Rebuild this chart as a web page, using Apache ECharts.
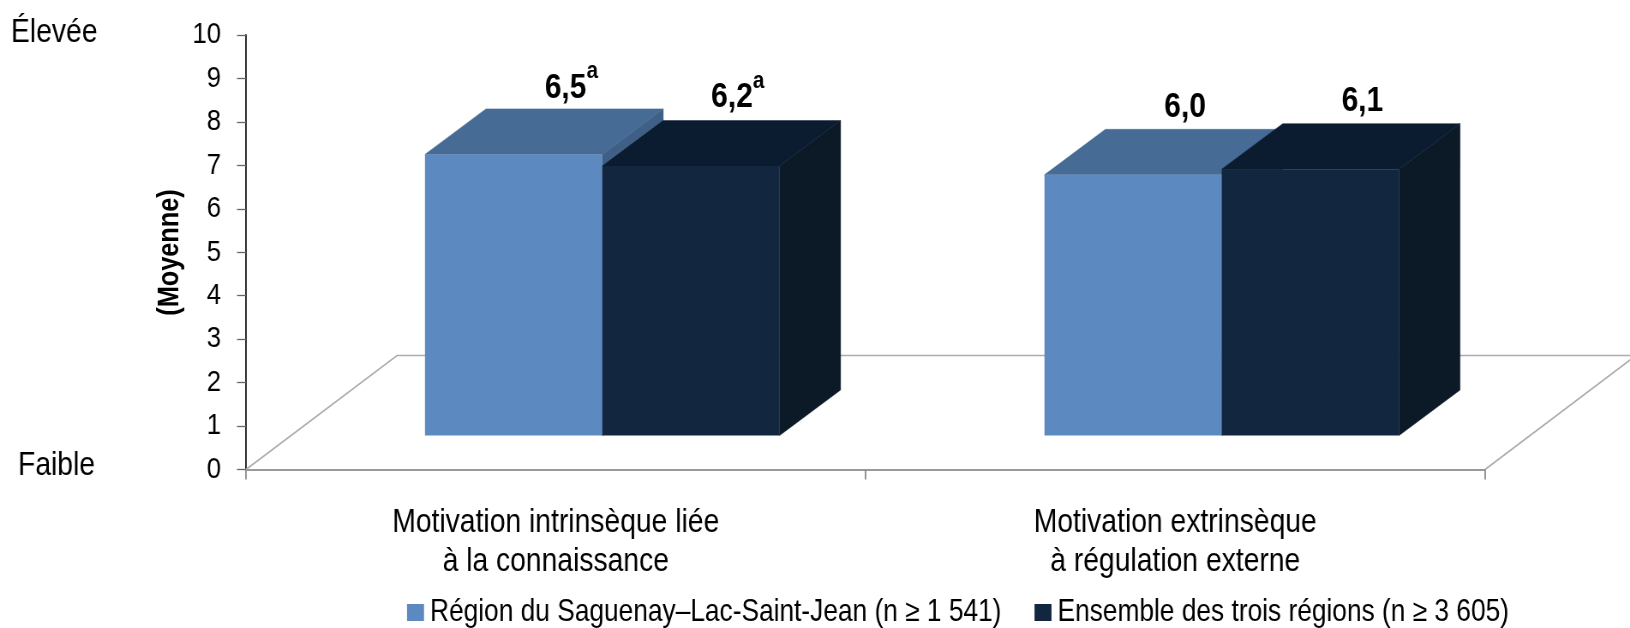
<!DOCTYPE html>
<html><head><meta charset="utf-8">
<style>
html,body{margin:0;padding:0;background:#fff;overflow:hidden;width:1630px;height:628px}
#c{height:628px;transform-origin:0 0}
</style>
<script src="https://cdn.jsdelivr.net/npm/echarts@6/dist/echarts.min.js"></script>
</head><body><div id="c"></div>
<script>
const categories = ['Motivation intrinsèque liée\nà la connaissance', 'Motivation extrinsèque\nà régulation externe'];
const seriesNames = ['Région du Saguenay–Lac-Saint-Jean (n ≥ 1 541)', 'Ensemble des trois régions (n ≥ 3 605)'];
const regionValues = [6.47, 6.0];
const ensembleValues = [6.2, 6.13];
const regionLabels = ['6,5', '6,0'];
const ensembleLabels = ['6,2', '6,1'];
const regionMarks = ['a', ''];
const ensembleMarks = ['a', ''];
const yTicks = [0, 10];

// The reference uses a narrow sans face: the page is drawn wide and condensed horizontally.
const K = 0.857;
const X = px => px / K;
const host = document.getElementById('c');
host.style.width = X(1630) + 'px';
host.style.transform = 'scaleX(' + K + ')';

const FONT = '"Liberation Sans",Arial,sans-serif';
const FS = 33;
const FLOOR_DX = X(151), FLOOR_DY = 114;
const BAR_DX = X(61), BAR_DY = 45.5;
const OFF_X = X(46.5), OFF_Y = 34;
const BAR_RATIO = 177.3 / 619.5;
const LABEL_DX = [[52, 52], [41, 52]];
const LABEL_DY = [[0, -1], [-2, -1]];

const shades = [
  {front:'#5b89c0', top:'#466b94', side:'#3f5f87'},
  {front:'#12263f', top:'#0c1c30', side:'#0c1926'}
];

function box(seriesIdx, labels, marks) {
  return function (params, api) {
    const cat = api.value(0), val = api.value(1);
    const c = api.coord([cat, val]), c0 = api.coord([cat, 0]);
    const w = api.size([1, 0])[0] * BAR_RATIO;
    const mid = c[0] + OFF_X;
    const x0 = seriesIdx === 0 ? mid - w : mid;
    const x1 = x0 + w;
    const yT = c[1] - OFF_Y, yB = c0[1] - OFF_Y;
    const s = shades[seriesIdx];
    const poly = (pts, fill) => ({type:'polygon', shape:{points:pts}, style:{fill:fill, stroke:fill, lineWidth:0.5}});
    const lx = x0 + w/2 + X(LABEL_DX[seriesIdx][cat]);
    const base = yT - BAR_DY - 10.5 + LABEL_DY[seriesIdx][cat];
    const children = [
      poly([[x1,yT],[x1+BAR_DX,yT-BAR_DY],[x1+BAR_DX,yB-BAR_DY],[x1,yB]], s.side),
      poly([[x0,yT],[x0+BAR_DX,yT-BAR_DY],[x1+BAR_DX,yT-BAR_DY],[x1,yT]], s.top),
      {type:'rect', shape:{x:x0,y:yT,width:w,height:yB-yT}, style:{fill:s.front}},
      {type:'text', x:lx, y:base - 28, style:{text:labels[cat], font:'bold 35px '+FONT, fill:'#000', align:'center', verticalAlign:'top'}}
    ];
    if (marks[cat]) children.push({type:'text', x:lx + X(21), y:base - 39, style:{text:marks[cat], font:'bold 24px '+FONT, fill:'#000', align:'left', verticalAlign:'top'}});
    return {type:'group', children};
  };
}

function floor(params, api) {
  const g = params.coordSys;
  const xL = g.x, xR = g.x + g.width, y = g.y + g.height;
  const st = {fill:'none', stroke:'#adadad', lineWidth:1.7};
  return {type:'group', children:[
    {type:'polyline', shape:{points:[[xL,y],[xL+FLOOR_DX,y-FLOOR_DY],[xR+FLOOR_DX,y-FLOOR_DY]]}, style:st},
    {type:'polyline', shape:{points:[[xR,y],[xR+FLOOR_DX,y-FLOOR_DY]]}, style:st}
  ]};
}

const chart = echarts.init(host, null, {renderer:'canvas', devicePixelRatio:1});
chart.setOption({
  animation:false,
  backgroundColor:'#fff',
  textStyle:{fontFamily:FONT},
  grid:{left:X(246), top:35, width:X(1239), height:434.5, containLabel:false},
  legend:{
    left:X(407), top:597, itemWidth:X(17), itemHeight:17, itemGap:X(33), icon:'rect', padding:0,
    data:seriesNames, selectedMode:false,
    textStyle:{fontFamily:FONT, fontSize:30.7, color:'#000', padding:[0,0,0,2]}
  },
  xAxis:{
    type:'category', data:categories,
    axisLine:{lineStyle:{color:'#999', width:2}},
    axisTick:{show:true, alignWithLabel:false, length:10, lineStyle:{color:'#888', width:X(1.5)}},
    axisLabel:{color:'#000', fontFamily:FONT, fontSize:FS, lineHeight:39, margin:34, interval:0, align:'center'}
  },
  yAxis:{
    type:'value', min:yTicks[0], max:yTicks[1], interval:1,
    splitLine:{show:false},
    axisLine:{show:true, lineStyle:{color:'#111', width:X(1.5)}},
    axisTick:{show:true, length:X(9), lineStyle:{color:'#666', width:1.3}},
    axisLabel:{color:'#000', fontFamily:FONT, fontSize:30, margin:X(25), padding:[3,0,0,0]}
  },
  graphic:[
    {type:'text', x:X(11), y:16, style:{text:'Élevée', font:'33px '+FONT, fill:'#000', verticalAlign:'top'}},
    {type:'text', x:X(18), y:449, style:{text:'Faible', font:'33px '+FONT, fill:'#000', verticalAlign:'top'}},
    {type:'text', x:X(170), y:252.5, rotation:Math.PI/2, scaleX:K, scaleY:1/K,
      style:{text:'(Moyenne)', font:'bold 29.5px '+FONT, fill:'#000', align:'center', verticalAlign:'middle'}}
  ],
  series:[
    {type:'custom', name:'floor', silent:true, z:1, renderItem:floor, data:[[0,0]], encode:{x:0,y:1}},
    {type:'custom', name:seriesNames[0], z:2, renderItem:box(0, regionLabels, regionMarks),
      itemStyle:{color:shades[0].front}, encode:{x:0,y:1},
      data:regionValues.map((v,i)=>[i,v])},
    {type:'custom', name:seriesNames[1], z:3, renderItem:box(1, ensembleLabels, ensembleMarks),
      itemStyle:{color:shades[1].front}, encode:{x:0,y:1},
      data:ensembleValues.map((v,i)=>[i,v])}
  ]
});
</script></body></html>
